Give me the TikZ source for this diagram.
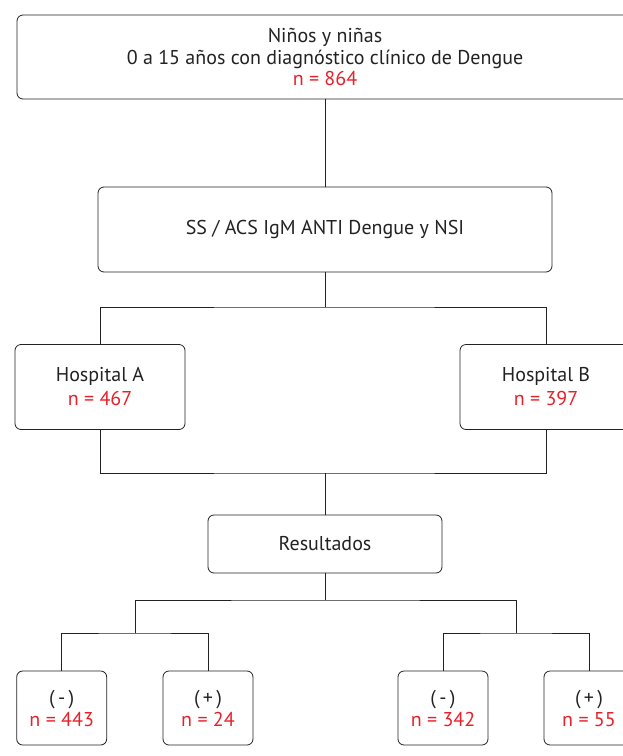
\documentclass[tikz,border=0pt]{standalone}
\usepackage{fontspec}
\setmainfont{PT Sans}
\usetikzlibrary{positioning}
\definecolor{nred}{HTML}{E8202A}
\definecolor{ink}{HTML}{222222}
\newcommand\nval[1]{\textcolor{nred}{n = #1}}

\begin{document}
\begin{tikzpicture}[x=1pt,y=-1pt,
    box/.style={draw=ink,rounded corners=6pt,line width=.8pt,align=center,inner sep=0pt,text=ink,font=\fontsize{20}{21.5}\selectfont},
    link/.style={draw=ink,line width=.8pt}]

  %% Page frame (the right edge cuts the boxes)
  \useasboundingbox (0,0) rectangle (623,756);
  \clip (0,0) rectangle (623,756);

  %% Boxes
  \node[box,minimum width=616,minimum height=84] (top) at (325,57)
    {Niños y niñas\\0 a 15 años con diagnóstico clínico de Dengue\\\nval{864}};
  \node[box,minimum width=454,minimum height=85] (ss) at (325,229.5)
    {SS / ACS IgM ANTI Dengue y NSI};
  \node[box,minimum width=170,minimum height=85,font=\fontsize{20}{24}\selectfont] (hospA) at (100,387)
    {Hospital A\\\nval{467}};
  \node[box,minimum width=172,minimum height=85,font=\fontsize{20}{24}\selectfont] (hospB) at (546,387)
    {Hospital B\\\nval{397}};
  \node[box,minimum width=234,minimum height=58] (res) at (325,544)
    {Resultados};

  %% Results per hospital
  \foreach \nm/\x/\sg/\n in {negA/61.7/-/443, posA/208/+/24, negB/443/-/342, posB/589/+/55}{
    \node[box,minimum width=90,minimum height=74,font=\fontsize{20}{22}\selectfont] (\nm) at (\x,708)
      {(\,\sg\,)\\\nval{\n}};
  }

  %% Forks
  \coordinate (fork1) at (325,307);
  \coordinate (fork2) at (325,473);
  \coordinate (fork3) at (325,600);
  \coordinate (forkA) at (135,633);
  \coordinate (forkB) at (516,633);

  %% Connectors
  \draw[link] (top) -- (ss);
  \draw[link] (ss.south) -- (fork1);
  \draw[link] (hospA.north) |- (fork1) -| (hospB.north);
  \draw[link] (hospA.south) |- (fork2) -| (hospB.south);
  \draw[link] (fork2) -- (res.north);
  \draw[link] (res.south) -- (fork3);
  \draw[link] (forkA) |- (fork3) -| (forkB);
  \draw[link] (negA.north) |- (forkA) -| (posA.north);
  \draw[link] (negB.north) |- (forkB) -| (posB.north);

\end{tikzpicture}
\end{document}
